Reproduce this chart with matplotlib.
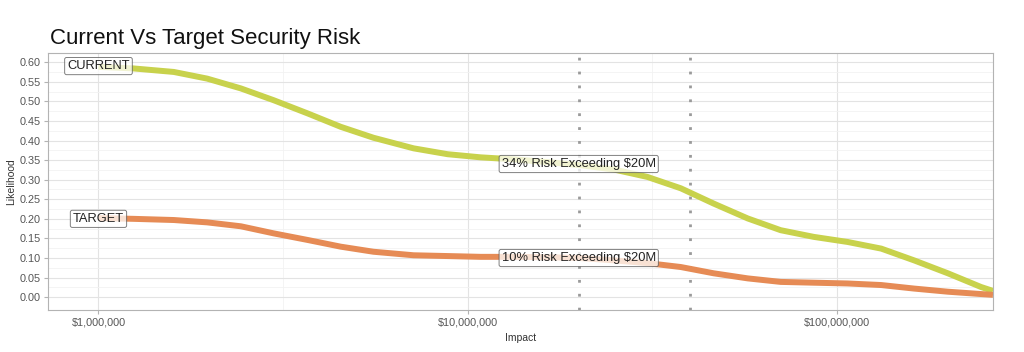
import matplotlib
matplotlib.use('Agg')
import matplotlib.pyplot as plt
import matplotlib.ticker as mticker
import numpy as np

plt.rcParams['font.family'] = ['Liberation Sans', 'DejaVu Sans']

# impact in dollars, likelihood
impact = [1.00e6, 1.244e6, 1.60e6, 1.97e6, 2.43e6, 2.98e6, 3.69e6, 4.53e6, 5.56e6, 7.14e6,
          8.83e6, 10.85e6, 13.3e6, 16.4e6, 20.2e6, 24.9e6, 30.7e6, 37.8e6, 46.4e6, 57.4e6,
          70.5e6, 86.6e6, 107e6, 132e6, 162e6, 200e6, 246e6, 265e6]
current = [0.588, 0.584, 0.575, 0.558, 0.533, 0.503, 0.469, 0.435, 0.407, 0.380,
           0.365, 0.357, 0.352, 0.345, 0.337, 0.326, 0.307, 0.278, 0.239, 0.201,
           0.171, 0.154, 0.141, 0.124, 0.094, 0.061, 0.026, 0.016]
target = [0.202, 0.200, 0.197, 0.191, 0.181, 0.163, 0.146, 0.129, 0.116, 0.107,
          0.105, 0.103, 0.103, 0.102, 0.100, 0.094, 0.087, 0.077, 0.061, 0.048,
          0.039, 0.037, 0.035, 0.031, 0.022, 0.014, 0.008, 0.006]

thresholds = [20e6, 40e6]
x_ticks = [1e6, 1e7, 1e8]
x_minor = [10 ** 6.5, 10 ** 7.5]
y_ticks = np.arange(0, 0.61, 0.05)
y_minor = np.arange(0.025, 0.61, 0.05)

labels = [('CURRENT', 1e6, 0.59), ('TARGET', 1e6, 0.20),
          ('34% Risk Exceeding $20M', 20e6, 0.34),
          ('10% Risk Exceeding $20M', 20e6, 0.10)]

fig = plt.figure(figsize=(10.24, 3.52), dpi=100)
ax = fig.add_axes([0.0469, 0.119, 0.9228, 0.730])
ax.set_xscale('log')
ax.set_xlim(7.3e5, 2.65e8)
ax.set_ylim(-0.033, 0.623)

ax.set_xticks(x_ticks)
ax.set_xticks(x_minor, minor=True)
ax.xaxis.set_major_formatter(mticker.FuncFormatter(lambda v, p: '${:,.0f}'.format(v)))
ax.xaxis.set_minor_formatter(mticker.NullFormatter())
ax.set_yticks(y_ticks)
ax.set_yticks(y_minor, minor=True)
ax.yaxis.set_major_formatter(mticker.FormatStrFormatter('%.2f'))

ax.grid(which='major', color='#e3e3e3', linewidth=0.8)
ax.grid(which='minor', color='#f2f2f2', linewidth=0.6)
ax.set_axisbelow(True)
for s in ax.spines.values():
    s.set_color('#b3b3b3')
    s.set_linewidth(0.8)
ax.tick_params(which='major', colors='#b3b3b3', labelcolor='#555555', labelsize=7.8,
               length=3, width=0.8, pad=2)
ax.tick_params(which='minor', length=0)

for t in thresholds:
    ax.axvline(t, color='#9a9a9a', linestyle=(0, (1, 4)), linewidth=2, zorder=1)

ax.plot(impact, current, color='#c8d24c', linewidth=4.3, solid_capstyle='butt',
        solid_joinstyle='round', zorder=2)
ax.plot(impact, target, color='#e68b55', linewidth=4.3, solid_capstyle='butt',
        solid_joinstyle='round', zorder=2)

for txt, x, y in labels:
    ax.text(x, y, txt, ha='center', va='center', fontsize=9.3, color='#222222', zorder=3,
            bbox=dict(boxstyle='round,pad=0.2,rounding_size=0.15', fc='white', alpha=0.75,
                      ec='#555555', lw=0.7))

ax.set_xlabel('Impact', fontsize=7.5, color='#333333', labelpad=4)
ax.set_ylabel('Likelihood', fontsize=7.5, color='#333333', labelpad=3)
fig.text(0.049, 0.875, 'Current Vs Target Security Risk', fontsize=16, color='#111111')

fig.savefig('out.png', dpi=100, facecolor='white')
